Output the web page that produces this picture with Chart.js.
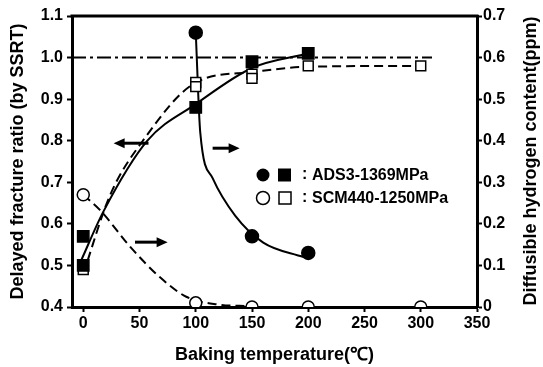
<!DOCTYPE html>
<html>
<head>
<meta charset="utf-8">
<script src="https://cdn.jsdelivr.net/npm/chart.js@4/dist/chart.umd.min.js"></script>
<style>
  html, body { margin: 0; padding: 0; background: #fff; }
  canvas { display: block; }
</style>
</head>
<body>
<canvas id="chart" width="543" height="367"></canvas>
<script>
// measured points, delayed fracture ratio (left axis)
const adsRatioX = [0, 0, 100, 150, 200];
const adsRatioY = [0.57, 0.50, 0.88, 0.99, 1.01];
const scmRatioX = [0, 100, 100, 150, 150, 200, 300];
const scmRatioY = [0.49, 0.94, 0.93, 0.96, 0.95, 0.98, 0.98];

// measured points, diffusible hydrogen (right axis)
const adsH2X = [100, 150, 200];
const adsH2Y = [0.66, 0.17, 0.13];
const scmH2X = [0, 100, 150, 200, 300];
const scmH2Y = [0.27, 0.01, 0, 0, 0];

// hand drawn trend curves
const adsRatioFitX = [-3, 18, 57, 100, 150, 200];
const adsRatioFitY = [0.505, 0.63, 0.80, 0.888, 0.975, 1.01];
const scmRatioFitX = [0, 24, 53, 100, 150, 200, 300];
const scmRatioFitY = [0.48, 0.67, 0.80, 0.94, 0.965, 0.978, 0.98];
const adsH2FitX = [100, 104, 115, 135, 160, 196];
const adsH2FitY = [0.66, 0.42, 0.31, 0.22, 0.155, 0.12];
const scmH2FitX = [0, 15, 42, 68, 92, 120, 148];
const scmH2FitY = [0.27, 0.233, 0.144, 0.072, 0.024, 0.006, 0.002];

// reference line (ratio = 1.0)
const refX = [-10, 310];
const refY = [1.0, 1.0];

// tick labels
const xTicks = [0, 50, 100, 150, 200, 250, 300, 350];
const yTicks = [0.4, 0.5, 0.6, 0.7, 0.8, 0.9, 1.0, 1.1];
const y2Ticks = [0, 0.1, 0.2, 0.3, 0.4, 0.5, 0.6, 0.7];

// arrows: [fromX, toX, y on left axis]
const arrows = [[58, 27, 0.794], [115, 139, 0.782], [46, 75, 0.556]];

const legendRows = [
  { label: 'ADS3-1369MPa', filled: true },
  { label: 'SCM440-1250MPa', filled: false }
];

const FONT = '"Liberation Sans", Arial, sans-serif';
const pts = (xs, ys) => xs.map((x, i) => ({ x: x, y: ys[i] }));

const fitLine = (xs, ys, axis, dash) => ({
  data: pts(xs, ys), yAxisID: axis, showLine: true,
  borderColor: '#000', borderWidth: 2, borderDash: dash,
  pointRadius: 0, cubicInterpolationMode: 'monotone', order: 5
});
const marks = (xs, ys, axis, style, r, filled) => ({
  data: pts(xs, ys), yAxisID: axis, showLine: false,
  pointStyle: style, pointRadius: r, pointHoverRadius: r,
  pointBackgroundColor: filled ? '#000' : '#fff',
  pointBorderColor: '#000', pointBorderWidth: 1.5, order: 1
});

const extras = {
  id: 'extras',
  afterDatasetsDraw(chart) {
    const ctx = chart.ctx, a = chart.chartArea;
    const x = chart.scales.x, y = chart.scales.y;
    ctx.save();
    // top frame line
    ctx.strokeStyle = '#000';
    ctx.lineWidth = 3;
    ctx.beginPath();
    ctx.moveTo(a.left - 1.5, a.top);
    ctx.lineTo(a.right + 1.5, a.top);
    ctx.stroke();

    // arrows
    ctx.lineWidth = 3;
    ctx.fillStyle = '#000';
    arrows.forEach(([x1, x2, yv]) => {
      const px1 = x.getPixelForValue(x1), px2 = x.getPixelForValue(x2);
      const py = y.getPixelForValue(yv);
      const d = Math.sign(px2 - px1);
      ctx.beginPath();
      ctx.moveTo(px1, py);
      ctx.lineTo(px2 - d * 6, py);
      ctx.stroke();
      ctx.beginPath();
      ctx.moveTo(px2, py);
      ctx.lineTo(px2 - d * 11, py - 5);
      ctx.lineTo(px2 - d * 11, py + 5);
      ctx.closePath();
      ctx.fill();
    });

    // legend
    ctx.font = 'bold 16px ' + FONT;
    ctx.textBaseline = 'middle';
    legendRows.forEach((row, i) => {
      const cy = 175 + i * 23;
      ctx.lineWidth = 1.5;
      ctx.beginPath();
      ctx.arc(263, cy, 6.5, 0, Math.PI * 2);
      if (row.filled) ctx.fill(); else { ctx.fillStyle = '#fff'; ctx.fill(); ctx.fillStyle = '#000'; ctx.stroke(); }
      if (row.filled) ctx.fillRect(278, cy - 6.5, 13, 13);
      else ctx.strokeRect(279, cy - 6, 12, 12);
      ctx.fillText(':', 302, cy);
      ctx.fillText(row.label, 312, cy + 1);
    });

    // right axis title, reading bottom to top
    ctx.font = 'bold 18px ' + FONT;
    ctx.textAlign = 'center';
    ctx.translate(531, 161);
    ctx.rotate(-Math.PI / 2);
    ctx.fillText('Diffusible hydrogen content(ppm)', 0, 0);
    ctx.restore();
  }
};

const axisCommon = {
  type: 'linear',
  border: { display: true, color: '#000', width: 3 },
  grid: { drawOnChartArea: false, drawTicks: true, tickLength: 5, tickColor: '#000', tickWidth: 2 },
  ticks: { color: '#000', font: { family: FONT, size: 16, weight: 'bold' } }
};

new Chart(document.getElementById('chart'), {
  type: 'scatter',
  data: {
    datasets: [
      fitLine(refX, refY, 'y', [14, 4, 3, 4]),
      fitLine(adsRatioFitX, adsRatioFitY, 'y', []),
      fitLine(scmRatioFitX, scmRatioFitY, 'y', [9, 5]),
      fitLine(adsH2FitX, adsH2FitY, 'y2', []),
      fitLine(scmH2FitX, scmH2FitY, 'y2', [9, 5]),
      marks(adsRatioX, adsRatioY, 'y', 'rect', 8, true),
      marks(scmRatioX, scmRatioY, 'y', 'rect', 7, false),
      marks(adsH2X, adsH2Y, 'y2', 'circle', 6.5, true),
      marks(scmH2X, scmH2Y, 'y2', 'circle', 6, false)
    ]
  },
  options: {
    responsive: false,
    animation: false,
    devicePixelRatio: 1,
    layout: { padding: { top: 16, left: 0, right: 0, bottom: 0 } },
    plugins: { legend: { display: false }, tooltip: { enabled: false } },
    scales: {
      x: {
        ...axisCommon,
        min: -10, max: 350,
        afterBuildTicks: s => { s.ticks = xTicks.map(v => ({ value: v })); },
        afterFit: s => { s.height = 60; },
        ticks: { ...axisCommon.ticks, padding: 2, maxRotation: 0 },
        title: { display: true, text: 'Baking temperature(℃)', color: '#000',
                 font: { family: FONT, size: 18, weight: 'bold' }, padding: { top: 4, bottom: 1 } }
      },
      y: {
        ...axisCommon,
        position: 'left',
        min: 0.4, max: 1.1,
        afterBuildTicks: s => { s.ticks = yTicks.map(v => ({ value: v })); },
        afterFit: s => { s.width = 72; },
        ticks: { ...axisCommon.ticks, padding: 4, callback: v => v.toFixed(1) },
        title: { display: true, text: 'Delayed fracture ratio (by SSRT)', color: '#000',
                 font: { family: FONT, size: 18, weight: 'bold' }, padding: { top: 7, bottom: 0 } }
      },
      y2: {
        ...axisCommon,
        position: 'right',
        min: 0, max: 0.7,
        afterBuildTicks: s => { s.ticks = y2Ticks.map(v => ({ value: v })); },
        afterFit: s => { s.width = 66; },
        ticks: { ...axisCommon.ticks, padding: 1, callback: v => v === 0 ? '0' : v.toFixed(1) }
      }
    }
  },
  plugins: [extras]
});
</script>
</body>
</html>
